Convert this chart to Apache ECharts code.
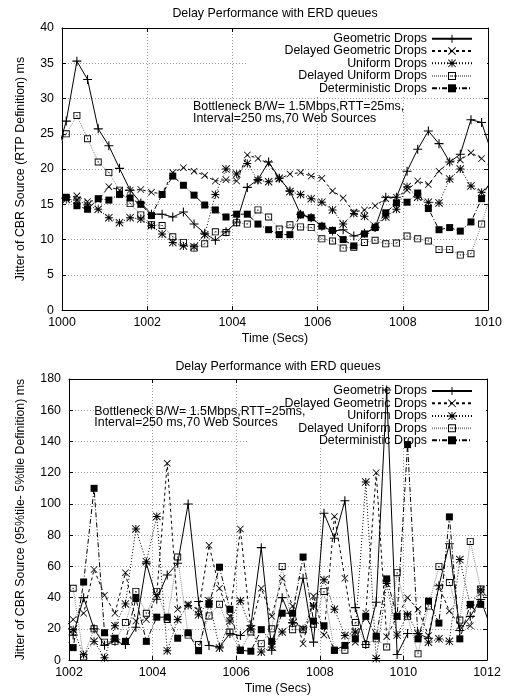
<!DOCTYPE html>
<html>
<head>
<meta charset="utf-8">
<script src="https://cdn.jsdelivr.net/npm/echarts@6.0.0/dist/echarts.min.js"></script>
<style>
  body { margin: 0; background: #fff; }
  .box { width: 506px; height: 350px; }
</style>
</head>
<body>
<div id="chartTop" class="box"></div>
<div id="chartBottom" class="box"></div>
<script type="text/javascript">
// sample times, 250 ms apart; first and last sample fall just outside the axis range
var timesTop = [999.85, 1000.10, 1000.35, 1000.60, 1000.85, 1001.10, 1001.35, 1001.60, 1001.85,
  1002.10, 1002.35, 1002.60, 1002.85, 1003.10, 1003.35, 1003.60, 1003.85, 1004.10, 1004.35,
  1004.60, 1004.85, 1005.10, 1005.35, 1005.60, 1005.85, 1006.10, 1006.35, 1006.60, 1006.85,
  1007.10, 1007.35, 1007.60, 1007.85, 1008.10, 1008.35, 1008.60, 1008.85, 1009.10, 1009.35,
  1009.60, 1009.85, 1010.10];
var timesBottom = [1001.85, 1002.10, 1002.35, 1002.60, 1002.85, 1003.10, 1003.35, 1003.60, 1003.85,
  1004.10, 1004.35, 1004.60, 1004.85, 1005.10, 1005.35, 1005.60, 1005.85, 1006.10, 1006.35,
  1006.60, 1006.85, 1007.10, 1007.35, 1007.60, 1007.85, 1008.10, 1008.35, 1008.60, 1008.85,
  1009.10, 1009.35, 1009.60, 1009.85, 1010.10, 1010.35, 1010.60, 1010.85, 1011.10, 1011.35,
  1011.60, 1011.85, 1012.10];

// top chart: RTP jitter (ms)
var geoTop  = [21.5, 26.8, 35.3, 32.7, 25.7, 23.3, 20.1, 17.0, 15.2, 13.6, 13.6, 13.2, 13.9, 12.2, 10.9, 9.9, 11.1, 12.5, 17.4, 18.5, 21.0, 18.7, 16.9, 13.6, 13.1, 11.9, 11.2, 11.4, 10.5, 10.9, 11.7, 16.0, 16.0, 19.7, 22.8, 25.4, 23.6, 21.0, 22.1, 27.0, 26.6, 22.0];
var dgeoTop = [16.0, 15.9, 16.2, 15.4, 15.6, 17.5, 17.0, 17.0, 17.1, 16.7, 16.5, 19.5, 20.2, 19.7, 19.1, 18.3, 18.5, 18.3, 22.0, 21.5, 20.8, 18.6, 19.3, 19.5, 19.0, 18.7, 16.9, 15.9, 13.9, 14.2, 14.8, 15.8, 16.0, 17.0, 18.3, 17.8, 19.7, 21.0, 21.3, 22.3, 21.5, 20.0];
var uniTop  = [16.0, 15.7, 15.6, 14.9, 14.3, 13.1, 12.4, 13.1, 12.9, 12.0, 10.8, 9.6, 9.1, 9.0, 10.7, 16.4, 20.0, 19.3, 20.8, 18.4, 18.2, 18.7, 16.8, 16.4, 15.8, 15.3, 14.2, 12.2, 13.7, 13.3, 11.9, 13.2, 14.3, 17.5, 16.0, 15.3, 15.2, 18.6, 20.0, 17.6, 16.7, 18.0];
var dunTop  = [22.5, 25.0, 27.6, 24.3, 21.0, 19.5, 17.0, 15.1, 13.5, 12.1, 12.0, 10.4, 9.6, 8.8, 9.4, 11.1, 11.0, 12.4, 12.2, 14.2, 13.2, 11.5, 12.1, 11.8, 11.7, 10.1, 9.8, 8.8, 8.9, 9.6, 9.9, 9.4, 9.5, 10.5, 10.1, 9.8, 8.6, 8.6, 7.8, 8.0, 12.2, 17.0];
var detTop  = [16.0, 16.0, 14.8, 14.3, 15.8, 15.6, 16.4, 15.9, 15.0, 13.4, 16.4, 19.0, 17.7, 16.3, 14.9, 14.2, 13.2, 13.6, 13.6, 12.2, 11.4, 10.7, 10.7, 13.5, 13.1, 11.9, 11.3, 10.0, 9.1, 10.8, 11.7, 13.8, 15.2, 15.3, 16.6, 14.4, 11.4, 11.7, 11.2, 12.5, 15.8, 19.0];

// bottom chart: 95%tile - 5%tile jitter (ms)
var geoBot  = [25, 16, 40, 20, 9.5, 12, 10, 21, 62, 39, 54.5, 62, 100, 37.5, 9.4, 8.4, 17, 15.7, 22, 72, 6.3, 40, 24, 52.4, 11.5, 94, 78, 102, 33.6, 10, 37, 173, 3.6, 17, 17, 14, 47.6, 74.5, 19, 28, 38.8, 20];
var dgeoBot = [20, 26, 30, 58, 41.5, 30, 56, 25, 26, 42, 126, 32.5, 36, 32, 73.5, 46, 28, 84, 20, 46, 28, 52.4, 34.6, 10.5, 41, 16, 92, 52.4, 11.5, 30, 120, 15, 28, 40, 32.5, 15.7, 47, 31.5, 22, 22, 43, 40];
var uniBot  = [30, 19.5, 3.5, 12, 1.5, 22, 36, 84, 63, 92, 6, 26, 35, 29, 38, 7.8, 25, 38, 20, 5.2, 8.4, 18, 23.7, 20, 34.6, 51.4, 32.5, 15.7, 18, 114, 1, 49, 16, 29, 16.8, 11.5, 13.6, 12, 64.4, 35, 45, 50];
var dunBot  = [40, 46, 2, 20, 11.5, 12, 24, 44, 30, 44, 26, 66, 16, 10, 28.3, 35.7, 18, 6.3, 18, 10.5, 20, 60, 19.5, 19.5, 23, 44, 6.3, 6.3, 24, 10, 13.6, 8.4, 56, 28, 4, 34.6, 60, 49.7, 25.6, 76, 45.5, 38];
var detBot  = [15, 8, 50, 110, 17.5, 14, 12, 39.5, 12, 27.5, 27.5, 14, 17.5, 6, 35.7, 59.5, 32.5, 6.3, 5.7, 19.5, 12, 30, 30, 66, 25, 22, 6.3, 9.4, 13.6, 28, 15.3, 52, 28, 138, 13.6, 37.8, 23.7, 91.7, 13.6, 35.7, 35.7, 30];

var seriesNames = ['Geometric Drops', 'Delayed Geometric Drops', 'Uniform Drops', 'Delayed Uniform Drops', 'Deterministic Drops'];

// gnuplot-like point types
var PLUS  = 'path://M0,4.4H10V5.6H0Z M4.4,0H5.6V10H4.4Z';
var CROSS = 'path://M0,0.8L0.8,0L10,9.2L9.2,10Z M9.2,0L10,0.8L0.8,10L0,9.2Z';
var STAR  = 'path://M0,0.8L0.8,0L10,9.2L9.2,10Z M9.2,0L10,0.8L0.8,10L0,9.2Z M0,4.4H10V5.6H0Z M4.4,0H5.6V10H4.4Z';
var BOX   = 'path://M0,0H10V10H0Z M1.3,1.3V8.7H8.7V1.3Z M4.3,4.3H5.7V5.7H4.3Z';

var looks = [
  { symbol: PLUS,  size: 9, color: '#000', type: 'solid' },
  { symbol: CROSS, size: 7, color: '#000', type: [3, 3] },
  { symbol: STAR,  size: 8, color: '#000', type: [1, 2] },
  { symbol: BOX,   size: 7, color: '#888', type: [1, 1] },
  { symbol: 'rect', size: 7, color: '#000', type: [5, 2, 1, 2] }
];

var FONT = '"Liberation Sans", Arial, sans-serif';
var FS = 12.4;

function pairs(t, v) {
  return t.map(function (x, i) { return [x, v[i]]; });
}

function plain(v) { return String(v); }

function axisBase(extra) {
  var a = {
    type: 'value',
    axisLine: { show: true, onZero: false, lineStyle: { color: '#000', width: 1 } },
    axisTick: { show: true, inside: true, length: 4, lineStyle: { color: '#000' } },
    axisLabel: { show: false },
    splitLine: { show: false }
  };
  for (var k in extra) a[k] = extra[k];
  return a;
}

function buildChart(dom, c) {
  var chart = echarts.init(document.getElementById(dom), null, { renderer: 'canvas' });
  var grid = { left: c.left, top: c.top, width: c.width, height: c.height };
  var labelStyle = { color: '#000', fontSize: FS, fontFamily: FONT };
  var gridLine = { show: true, lineStyle: { color: '#999', width: 1, type: [1, 2] } };

  var series = c.values.map(function (vals, i) {
    return {
      type: 'line',
      name: seriesNames[i],
      data: pairs(c.times, vals),
      symbol: looks[i].symbol,
      symbolSize: looks[i].size,
      showAllSymbol: true,
      clip: true,
      lineStyle: { width: 1, color: looks[i].color, type: looks[i].type },
      itemStyle: { color: '#000' },
      emphasis: { disabled: true }
    };
  });

  // one legend per row so the samples line up on the right, like gnuplot's key
  var legends = seriesNames.map(function (n, i) {
    return {
      data: [n],
      right: 33,
      top: c.legendRows[i] - 5,
      align: 'right',
      padding: 0,
      itemWidth: 40,
      itemHeight: 10,
      selectedMode: false,
      textStyle: labelStyle
    };
  });

  var option = {
    animation: false,
    backgroundColor: '#fff',
    grid: grid,
    legend: legends,
    xAxis: [
      axisBase({
        min: c.xMin, max: c.xMax, interval: 2, position: 'bottom',
        axisLabel: { show: true, margin: 6, color: '#000', fontSize: FS, fontFamily: FONT, formatter: plain },
        splitLine: gridLine,
        name: 'Time (Secs)', nameLocation: 'middle', nameGap: 18, nameTextStyle: labelStyle
      }),
      axisBase({ min: c.xMin, max: c.xMax, interval: 2, position: 'top' })
    ],
    yAxis: [
      axisBase({
        min: 0, max: c.yMax, interval: c.yStep, position: 'left',
        axisLabel: { show: true, margin: 8, color: '#000', fontSize: FS, fontFamily: FONT, formatter: plain },
        splitLine: gridLine,
        name: c.yName, nameLocation: 'middle', nameGap: c.yNameGap, nameTextStyle: labelStyle
      }),
      axisBase({ min: 0, max: c.yMax, interval: c.yStep, position: 'right' })
    ],
    graphic: [
      // key box hides the grid behind it, data is drawn on top
      { type: 'rect', z: 1, silent: true, shape: c.keyBox, style: { fill: '#fff' } },
      { type: 'text', z: 5, x: c.titleX, y: c.titleY, silent: true,
        style: { text: 'Delay Performance with ERD queues', font: FS + 'px ' + FONT, fill: '#000', align: 'center', verticalAlign: 'middle' } },
      { type: 'text', z: 5, x: c.noteX, y: c.noteY, silent: true,
        style: { text: 'Bottleneck B/W= 1.5Mbps,RTT=25ms,\nInterval=250 ms,70 Web Sources', font: FS + 'px ' + FONT,
                 lineHeight: c.noteLine, fill: '#000', align: 'left', verticalAlign: 'top' } }
    ],
    series: series
  };
  chart.setOption(option);
  return chart;
}

buildChart('chartTop', {
  times: timesTop,
  values: [geoTop, dgeoTop, uniTop, dunTop, detTop],
  xMin: 1000, xMax: 1010, yMax: 40, yStep: 5,
  left: 62, top: 28, width: 426, height: 286,
  yName: 'Jitter of CBR Source (RTP Definition) ms', yNameGap: 35,
  titleX: 275, titleY: 14,
  legendRows: [37.7, 50, 62.3, 75, 87.3],
  keyBox: { x: 248, y: 29, width: 239, height: 67 },
  noteX: 193, noteY: 100.5, noteLine: 12
});

buildChart('chartBottom', {
  times: timesBottom,
  values: [geoBot, dgeoBot, uniBot, dunBot, detBot],
  xMin: 1002, xMax: 1012, yMax: 180, yStep: 20,
  left: 69, top: 29, width: 418, height: 286,
  yName: 'Jitter of CBR Source (95%tile- 5%tile Definition) ms', yNameGap: 42,
  titleX: 278, titleY: 16.7,
  legendRows: [40, 52.3, 65, 77.3, 89.3],
  keyBox: { x: 248, y: 30, width: 238, height: 66 },
  noteX: 94.3, noteY: 56.5, noteLine: 11
});
</script>
</body>
</html>
